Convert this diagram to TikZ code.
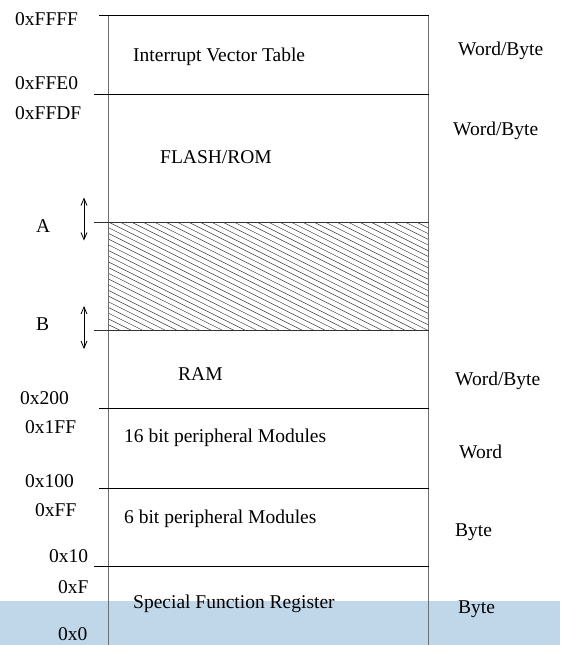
\documentclass[tikz,border=0pt]{standalone}
\usepackage{fontspec}
\setmainfont{Liberation Serif}
\usetikzlibrary{arrows.meta}
\definecolor{bandblue}{RGB}{191,215,233}
\definecolor{edgegray}{RGB}{110,110,110}
\tikzset{
  lbl/.style={anchor=base west, inner sep=0pt, font=\fontsize{19.5}{23}\selectfont},
  sepline/.style={line width=1pt, black},
  sideline/.style={line width=1.3pt, edgegray},
  hatch/.style={line width=0.5pt, black!75},
  dblarrow/.style={line width=0.8pt, {Straight Barb[length=7pt,width=6pt]}-{Straight Barb[length=7pt,width=6pt]}}
}
\begin{document}
\begin{tikzpicture}[x=1pt,y=-1pt]
\useasboundingbox (0,0) rectangle (560,645);
% bottom band
\fill[bandblue] (0,601) rectangle (560,645);
% hatched region
\begin{scope}
  \clip (108.5,222) rectangle (428.5,330);
  \foreach \c in {-171,-165.3,...,112}
    \draw[hatch] (108.5,222+\c) -- (428.5,382+\c);
\end{scope}
% coordinates
\coordinate (tl) at (108.5,15);
\coordinate (bl) at (108.5,645);
\coordinate (tr) at (428.5,15);
\coordinate (br) at (428.5,645);
\draw[sideline] (tl) -- (bl);
\draw[sideline] (tr) -- (br);
% separators
\coordinate (s0a) at (99,15);    \coordinate (s0b) at (428.5,15);
\coordinate (s1a) at (94,94);    \coordinate (s1b) at (428.5,94);
\coordinate (s2a) at (94,222);   \coordinate (s2b) at (428.5,222);
\coordinate (s3a) at (94,330);   \coordinate (s3b) at (428.5,330);
\coordinate (s4a) at (99,408.5); \coordinate (s4b) at (428.5,408.5);
\coordinate (s5a) at (99,488);   \coordinate (s5b) at (428.5,488);
\coordinate (s6a) at (94,566);   \coordinate (s6b) at (428.5,566);
\draw[sepline] (s0a) -- (s0b);
\draw[sepline] (s1a) -- (s1b);
\draw[sepline, black!80] (s2a) -- (s2b);
\draw[sepline, black!80] (s3a) -- (s3b);
\draw[sepline] (s4a) -- (s4b);
\draw[sepline] (s5a) -- (s5b);
\draw[sepline] (s6a) -- (s6b);
% arrows
\coordinate (a1) at (84,197.5); \coordinate (a2) at (84,240.5);
\coordinate (b1) at (84,306);   \coordinate (b2) at (84,349);
\draw[dblarrow] (a1) -- (a2);
\draw[dblarrow] (b1) -- (b2);
% address labels
\node[lbl] (l1) at (15,25) {0xFFFF};
\node[lbl] (l2) at (15,89) {0xFFE0};
\node[lbl] (l3) at (15,119) {0xFFDF};
\node[lbl] (lA) at (36,232.5) {A};
\node[lbl] (lB) at (36,330.5) {B};
\node[lbl] (l4) at (20,404) {0x200};
\node[lbl] (l5) at (25,433) {0x1FF};
\node[lbl] (l6) at (25,487) {0x100};
\node[lbl] (l7) at (35,516.5) {0xFF};
\node[lbl] (l8) at (49,562) {0x10};
\node[lbl] (l9) at (58,593) {0xF};
\node[lbl] (l10) at (58,640.5) {0x0};
% region names
\node[lbl] (r1) at (133,61) {Interrupt Vector Table};
\node[lbl] (r2) at (160,163.5) {FLASH/ROM};
\node[lbl] (r3) at (178,380) {RAM};
\node[lbl] (r4) at (124,442.5) {16 bit peripheral Modules};
\node[lbl] (r5) at (124,523.5) {6 bit peripheral Modules};
\node[lbl] (r6) at (133,608) {Special Function Register};
% access widths
\node[lbl] (w1) at (458,55) {Word/Byte};
\node[lbl] (w2) at (453,135) {Word/Byte};
\node[lbl] (w3) at (455,385.5) {Word/Byte};
\node[lbl] (w4) at (459,458.5) {Word};
\node[lbl] (w5) at (455,536.5) {Byte};
\node[lbl] (w6) at (458,613) {Byte};
\end{tikzpicture}
\end{document}
